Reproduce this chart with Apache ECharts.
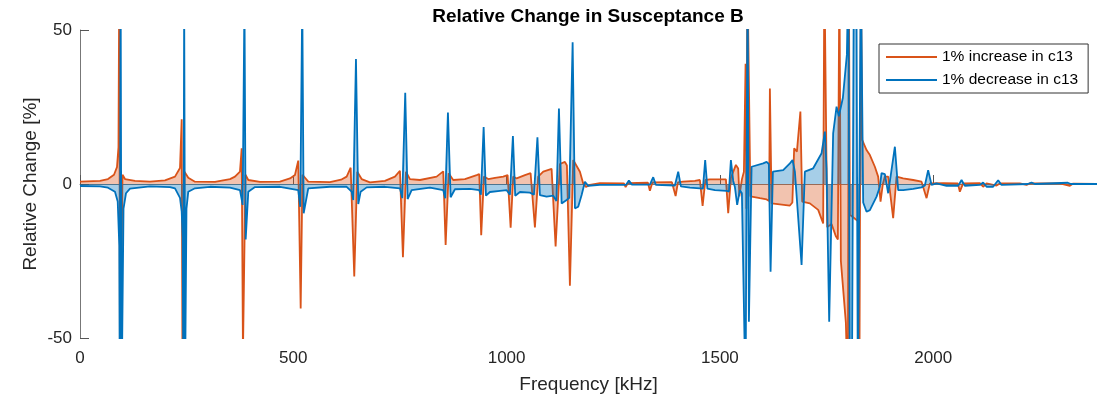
<!DOCTYPE html>
<html><head><meta charset="utf-8">
<script src="https://cdn.jsdelivr.net/npm/echarts@6/dist/echarts.min.js"></script>
<style>html,body{margin:0;padding:0;background:#fff}#c{width:1097px;height:405px}</style>
</head><body><div id="c"></div><script>
const titleText = 'Relative Change in Susceptance B';
const xName = 'Frequency [kHz]';
const yName = 'Relative Change [%]';
const xTicks = [0, 500, 1000, 1500, 2000];
const yTicks = [-50, 0, 50];
const seriesNames = ['1% increase in c13', '1% decrease in c13'];

// [frequency kHz, relative change %]
const increaseC13 = [[0,0.75],[46.9,1.0],[65.6,1.6],[79.7,3.0],[86.7,5.5],[90.2,12],[92.1,70],[93.75,-70],[99.6,3],[105.5,1.6],[128.9,1.0],[164.1,0.8],[199.2,1.2],[222.7,2.4],[234.4,5.2],[238.4,21],[240.2,-60],[242.6,-60],[244.9,4],[253.8,2],[269.5,0.75],[316.4,0.7],[351.6,1.6],[363.3,2.4],[375,4],[379,11.6],[382,-55],[384.4,-55],[387.9,3],[394.5,1.3],[421.9,0.7],[468.8,0.8],[492.2,1.8],[503.9,2.9],[511.6,7.6],[517.3,-40.4],[521.5,3],[535.1,0.75],[585.9,0.6],[612,1.4],[625.1,2.4],[634.5,5.3],[642.9,-30],[649.9,4],[660.2,1.6],[679.7,0.55],[714.8,1.0],[738.3,2.4],[750,4.3],[757,-23.8],[764.1,4],[773.4,1.6],[796.9,1.3],[836,2.4],[851.5,4.1],[857.1,-19.8],[864.1,3.5],[874.9,1.3],[902.3,1.6],[929.8,2.9],[935.9,3.2],[940.5,-16.6],[946.9,2.4],[957,1.6],[972.7,2],[992.1,2.4],[1002.4,2.9],[1009.5,-14.2],[1015.5,2.4],[1023.5,1.8],[1043,2.9],[1056.3,3.5],[1066.4,-14.1],[1074.1,2.4],[1085.9,4],[1105.5,4.9],[1114.9,-20.3],[1125,6.5],[1136.7,7.2],[1141.4,6],[1148.4,-33],[1156.2,7.8],[1160.2,8.3],[1171.9,4],[1179.6,0.2],[1185.9,-1],[1195.3,-0.3],[1218.8,0.3],[1275,0.2],[1279,-1],[1284.4,0.3],[1331.3,0.4],[1335.9,-2.2],[1341.8,0.5],[1387.5,0.6],[1396.2,-3.9],[1401.6,0.5],[1413.3,0.75],[1441.4,1.0],[1453.1,1.3],[1459.5,-7.1],[1466,1.3],[1476.6,1.5],[1514.1,1.5],[1519.5,-9.5],[1525.8,2],[1537.5,6.2],[1542.9,5],[1545.7,-4],[1551.6,1.5],[1556.3,4],[1560.2,39],[1562.1,-8],[1564.5,70],[1568,70],[1571.5,-4],[1593.8,-4.6],[1609.5,-5],[1615.5,-5.5],[1617.2,31],[1621.2,-6.3],[1664.1,-7],[1669.9,-6],[1674.1,11.6],[1680.5,10.5],[1688.7,23.5],[1692.9,-5.7],[1710.9,-6.3],[1730.4,-8.4],[1742.1,-12.8],[1744.9,70],[1748.4,70],[1751.5,-14],[1761.8,-13],[1771.9,-17],[1776.6,-18],[1780.1,70],[1783.6,-25],[1795.3,-45],[1800,-70],[1802.3,70],[1804.7,-10],[1823.4,-12],[1826.9,-70],[1830.5,70],[1833.5,14.3],[1843.8,11],[1851.6,9.4],[1863.3,5.6],[1871,2.4],[1876.6,-5.7],[1882,0],[1886.7,2.4],[1894.5,2.4],[1906.2,-11.1],[1914.1,2.4],[1929.6,1.8],[1953.1,1.3],[1972.7,0.75],[1984.5,-4.6],[1992.2,0.2],[2023.4,0.3],[2057.8,0.2],[2062.5,-2.5],[2070.2,0.2],[2109.4,0.3],[2117.1,-0.9],[2125.1,0.2],[2148.5,-0.5],[2156.3,0.2],[2203.1,0.2],[2218.8,-0.3],[2226.6,0.2],[2296.9,0.2],[2320.3,-0.6],[2327.3,0.1],[2384,0]];

const decreaseC13 = [[0,-0.65],[46.9,-0.8],[65.6,-1.2],[82,-2.5],[88.4,-5.7],[92.1,-20],[93.3,-70],[95.2,70],[97.5,-70],[102,-8],[107.8,-3],[117.2,-1.5],[164.1,-0.8],[210.9,-1.0],[222.7,-1.4],[234.4,-4.5],[238.4,-9],[240.7,-17.5],[242.1,-60],[244.2,60],[246.6,-60],[249.6,-8],[253.8,-2.5],[269.5,-1.4],[304.7,-0.9],[351.6,-1.2],[375,-2],[381.3,-6.8],[385.5,60],[388.4,-18],[394.5,-2.5],[410.2,-1],[468.8,-0.9],[511.6,-2],[516.3,-7.4],[521,60],[524.3,-9.5],[535.1,-1.4],[585.9,-0.9],[625.1,-0.9],[636.8,-2.5],[640.5,-5.2],[646.9,40.6],[652.3,-6.5],[657.9,-2.5],[672,-1.1],[714.8,-0.9],[750,-1.4],[755.4,-4.6],[762.4,29.6],[768,-4.9],[777.4,-2],[820.3,-1.2],[851.5,-2],[856.2,-4.6],[862.5,23.2],[868.8,-4.3],[878.9,-1.7],[914.1,-1.6],[935.9,-2],[939.8,-3.5],[946.2,18.5],[951.6,-3.8],[960.9,-2.6],[984.4,-2.2],[1000.1,-2],[1007.8,-3.5],[1014.8,15.6],[1020.2,-3.8],[1031.3,-2.6],[1054.7,-2.8],[1064.1,-3.5],[1072.3,15.2],[1078.1,-3.6],[1093.8,-4.1],[1109.3,-3.8],[1116.8,-5.5],[1122.7,24.5],[1129,-6.3],[1140.7,-5.2],[1146.8,-4.5],[1154.8,46],[1160.2,-7.9],[1167.9,-7.4],[1175.9,-3.6],[1183.6,0.75],[1191.3,-0.6],[1218.8,-0.3],[1279.7,-0.3],[1286.7,1.1],[1293.8,-0.2],[1335.9,-0.2],[1343.7,2.2],[1350,-0.3],[1394.5,-0.5],[1402.3,4],[1408.6,-0.8],[1429.7,-1.2],[1453.1,-1.4],[1460.2,-1.5],[1465.5,7.8],[1470.7,-1.5],[1488.3,-2],[1515.7,-2.2],[1521.1,-2.5],[1525.8,7.8],[1531.2,1],[1535.2,-1],[1540.5,-6.8],[1546.9,-2],[1551.6,-3],[1560.2,-70],[1564.9,70],[1568,-44.7],[1574.3,5.6],[1601.5,6.7],[1609.5,7.2],[1614.8,6.5],[1618.8,-28.5],[1624.2,4],[1648.4,4.5],[1664.1,6.7],[1670.4,7.8],[1675.8,4],[1691.5,-26.3],[1699.2,4],[1718.7,5.1],[1738.4,10],[1746.1,17],[1750,5],[1756.2,-44.7],[1765.5,16.4],[1773.5,25.1],[1778.9,22],[1788.3,28],[1797.7,42],[1801.2,70],[1804.7,-70],[1809.4,-70],[1814.1,70],[1819.9,70],[1823.4,-70],[1830.5,70],[1835.9,-6],[1843.8,-9],[1851.6,-8.5],[1867.3,-4.1],[1875,-0.9],[1878.9,3.5],[1886.7,3.2],[1894.5,-3],[1898.4,-3],[1910.2,12.1],[1917.9,-2],[1929.6,-2],[1953.1,-1.6],[1972.7,-1.1],[1980.5,-0.5],[1988.2,4.5],[1996.2,-0.3],[2007.9,0.2],[2031.3,-0.6],[2058.5,-0.6],[2066.5,1.3],[2074.2,-0.6],[2109.4,-0.3],[2117.1,0.5],[2125.1,-0.9],[2140.5,-0.9],[2152.3,1.2],[2160.2,-0.3],[2221.9,0],[2230.5,0.5],[2238.3,0],[2315.6,0.4],[2322.7,0],[2384,0]];

const colors = ['#D95319', '#0072BD'];
const font = '"Liberation Sans", Arial, Helvetica, sans-serif';

const chart = echarts.init(document.getElementById('c'), null, {renderer: 'canvas'});
chart.setOption({
  animation: false,
  backgroundColor: '#ffffff',
  title: {
    text: titleText, left: 588, top: 6, textAlign: 'center', padding: 0,
    textStyle: {fontFamily: font, fontSize: 19, fontWeight: 'bold', color: '#000', lineHeight: 22}
  },
  legend: {
    orient: 'vertical', left: 879, top: 44,
    padding: [4, 10, 4, 7], itemGap: 5, itemWidth: 51, itemHeight: 2,
    borderColor: '#333', borderWidth: 1, backgroundColor: '#fff',
    textStyle: {fontFamily: font, fontSize: 15.5, color: '#000', lineHeight: 18},
    data: seriesNames.map((n, i) => ({name: n, icon: 'rect', itemStyle: {color: colors[i]}}))
  },
  grid: {left: 80, right: 0, top: 30, bottom: 67, containLabel: false},
  xAxis: {
    type: 'value', min: xTicks[0], max: 2384, interval: 500,
    name: xName, nameLocation: 'middle', nameGap: 36, nameMoveOverlap: false,
    nameTextStyle: {fontFamily: font, fontSize: 19, color: '#262626', lineHeight: 22},
    axisLine: {show: true, lineStyle: {color: '#777', width: 1}},
    axisTick: {show: true, inside: true, length: 9, lineStyle: {color: '#555'}},
    axisLabel: {fontFamily: font, fontSize: 17, color: '#262626', margin: 10, lineHeight: 20,
      showMaxLabel: false, formatter: v => (xTicks.indexOf(v) >= 0 ? String(v) : '')},
    splitLine: {show: false}
  },
  yAxis: {
    type: 'value', min: yTicks[0], max: yTicks[2], interval: 50,
    name: yName, nameLocation: 'middle', nameGap: 38, nameRotate: 90, nameMoveOverlap: false,
    nameTextStyle: {fontFamily: font, fontSize: 19, color: '#262626', lineHeight: 22},
    axisLine: {show: true, lineStyle: {color: '#777', width: 1}},
    axisTick: {show: true, inside: true, length: 9, lineStyle: {color: '#555'}},
    axisLabel: {fontFamily: font, fontSize: 17, color: '#262626', margin: 8},
    splitLine: {show: false}
  },
  series: [
    {name: seriesNames[0], type: 'line', data: increaseC13, showSymbol: false, symbol: 'none',
     lineStyle: {color: colors[0], width: 1.8}, itemStyle: {color: colors[0]},
     areaStyle: {color: colors[0], opacity: 0.35}, clip: true, z: 2},
    {name: seriesNames[1], type: 'line', data: decreaseC13, showSymbol: false, symbol: 'none',
     lineStyle: {color: colors[1], width: 1.8}, itemStyle: {color: colors[1]},
     areaStyle: {color: colors[1], opacity: 0.35}, clip: true, z: 3}
  ]
});
</script></body></html>
